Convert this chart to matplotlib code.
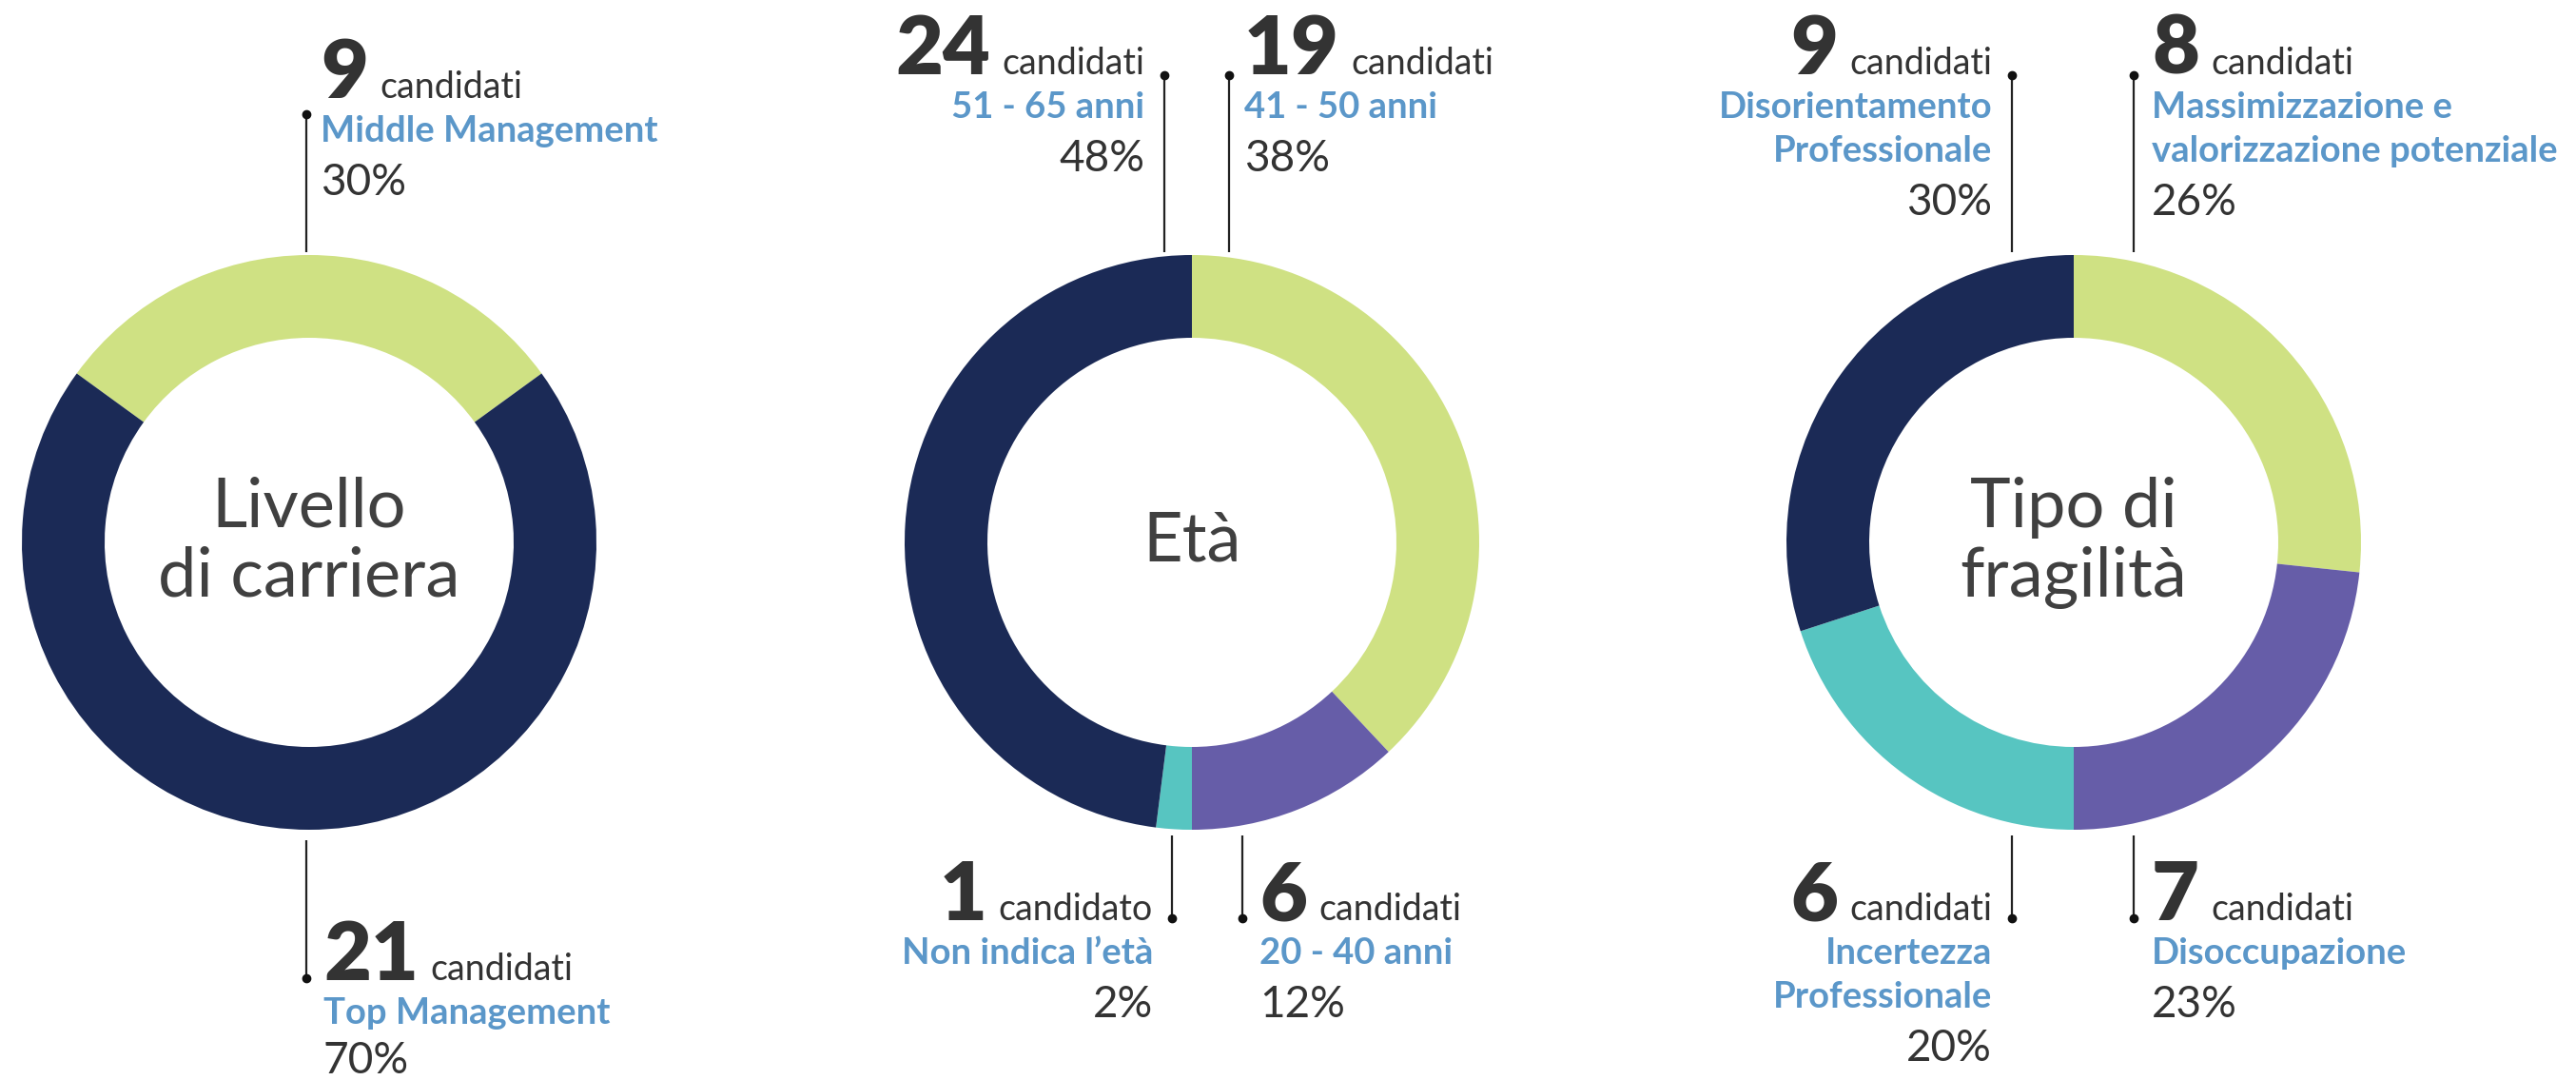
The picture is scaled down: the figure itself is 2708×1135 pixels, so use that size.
import matplotlib
matplotlib.use("Agg")
import matplotlib.pyplot as plt

plt.rcParams['font.family'] = ['Lato', 'DejaVu Sans']

W, H = 2708, 1135

# dati
titoli = ["Livello\ndi carriera", "Età", "Tipo di\nfragilità"]

carriera_labels = ["Middle Management", "Top Management"]
carriera_count = [9, 21]
carriera_pct = [30, 70]

eta_labels = ["41 - 50 anni", "20 - 40 anni", "Non indica l’età", "51 - 65 anni"]
eta_count = [19, 6, 1, 24]
eta_pct = [38, 12, 2, 48]

fragilita_labels = ["Massimizzazione e\nvalorizzazione potenziale", "Disoccupazione",
                    "Incertezza\nProfessionale", "Disorientamento\nProfessionale"]
fragilita_count = [8, 7, 6, 9]
fragilita_pct = [26, 23, 20, 30]

VERDE = '#cfe183'
NAVY = '#1b2a56'
VIOLA = '#665da8'
TEAL = '#57c5c1'
BLU = '#5b97c9'
SCURO = '#333333'

R_OUT, R_W = 302, 87
CY = 570


def py(y):
    # coordinate dall'alto -> coordinate dell'asse
    return H - y


fig = plt.figure(figsize=(W / 100, H / 100), dpi=100)
ax = fig.add_axes([0, 0, 1, 1])
renderer = fig.canvas.get_renderer()


def etichetta(x, yb, side, n, label, pct, pct_gap=56):
    word = 'candidato' if n == 1 else 'candidati'
    gap = 12
    if side == 'left':
        t = ax.text(x, py(yb), str(n), ha='left', va='baseline', fontsize=62,
                    weight='heavy', color=SCURO)
        w = t.get_window_extent(renderer).width
        ax.text(x + w + gap, py(yb), word, ha='left', va='baseline', fontsize=27, color=SCURO)
    else:
        t = ax.text(x, py(yb), word, ha='right', va='baseline', fontsize=27, color=SCURO)
        w = t.get_window_extent(renderer).width
        ax.text(x - w - gap, py(yb), str(n), ha='right', va='baseline', fontsize=62,
                weight='heavy', color=SCURO)
    righe = label.split('\n')
    for i, r in enumerate(righe):
        ax.text(x, py(yb + 46 * (i + 1)), r, ha=side, va='baseline', fontsize=27.5,
                weight='bold', color=BLU)
    ax.text(x, py(yb + 46 * len(righe) + pct_gap), f'{pct}%', ha=side, va='baseline',
            fontsize=33, color=SCURO)


def leader(x, y0, y1, dot):
    ax.plot([x, x], [py(y0), py(y1)], color='#222222', lw=1.6, solid_capstyle='butt')
    ax.plot(x, py(dot), 'o', ms=6, color='#111111')


def donut(cx, counts, colors, startangle, titolo):
    ax.pie(counts, colors=colors, startangle=startangle, counterclock=False,
           radius=R_OUT, center=(cx, py(CY)),
           wedgeprops=dict(width=R_W, linewidth=0))
    righe = titolo.split('\n')
    n = len(righe)
    for i, r in enumerate(righe):
        yb = CY + 20 + (i - (n - 1) / 2) * 73
        ax.text(cx, py(yb), r, ha='center', va='baseline', fontsize=52, color='#404040')


# --- Livello di carriera
donut(325, carriera_count, [VERDE, NAVY],
      90 + 180 * carriera_count[0] / sum(carriera_count), titoli[0])
leader(322, 120, 265, 120)
etichetta(337, 103, 'left', carriera_count[0], carriera_labels[0], carriera_pct[0])
leader(322, 883, 1028, 1028)
etichetta(340, 1030, 'left', carriera_count[1], carriera_labels[1], carriera_pct[1], pct_gap=52)

# --- Età
donut(1253, eta_count, [VERDE, VIOLA, TEAL, NAVY], 90, titoli[1])
leader(1292, 79, 265, 79)
etichetta(1308, 78, 'left', eta_count[0], eta_labels[0], eta_pct[0])
leader(1306, 878, 965, 965)
etichetta(1324, 967, 'left', eta_count[1], eta_labels[1], eta_pct[1])
leader(1232, 878, 965, 965)
etichetta(1212, 967, 'right', eta_count[2], eta_labels[2], eta_pct[2])
leader(1224, 79, 265, 79)
etichetta(1203, 78, 'right', eta_count[3], eta_labels[3], eta_pct[3])

# --- Tipo di fragilità
donut(2180, fragilita_count, [VERDE, VIOLA, TEAL, NAVY], 90, titoli[2])
leader(2243, 79, 265, 79)
etichetta(2262, 78, 'left', fragilita_count[0], fragilita_labels[0], fragilita_pct[0])
leader(2243, 878, 965, 965)
etichetta(2262, 967, 'left', fragilita_count[1], fragilita_labels[1], fragilita_pct[1])
leader(2115, 878, 965, 965)
etichetta(2094, 967, 'right', fragilita_count[2], fragilita_labels[2], fragilita_pct[2])
leader(2115, 79, 265, 79)
etichetta(2094, 78, 'right', fragilita_count[3], fragilita_labels[3], fragilita_pct[3])

ax.set_xlim(0, W)
ax.set_ylim(0, H)
ax.set_aspect('equal')
ax.axis('off')

fig.savefig('out.png', dpi=100, facecolor='white')
